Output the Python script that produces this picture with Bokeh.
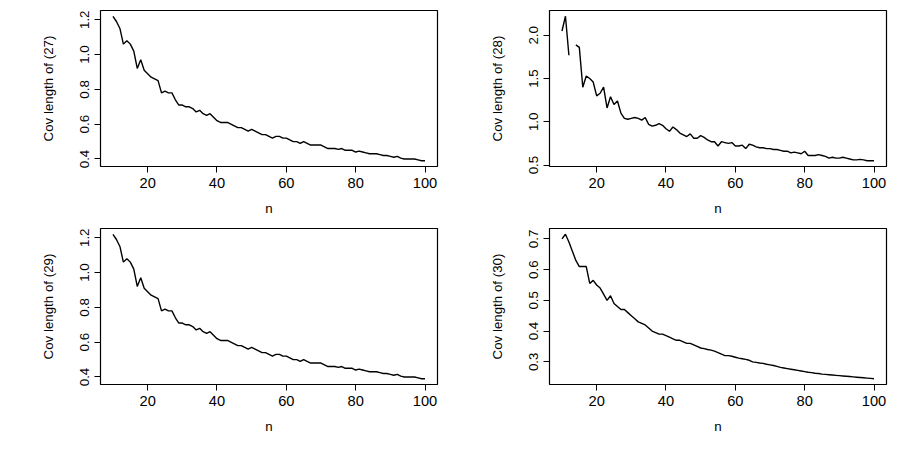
from bokeh.plotting import figure
from bokeh.layouts import gridplot
from bokeh.models import Range1d, FixedTicker, NumeralTickFormatter
from bokeh.embed import file_html
from bokeh.resources import INLINE
import math

n = list(range(10, 101))

cov27 = [1.22, 1.19, 1.15, 1.06, 1.08, 1.06, 1.02, 0.92, 0.97, 0.91,
         0.89, 0.87, 0.86, 0.85, 0.78, 0.79, 0.78, 0.78, 0.74, 0.71,
         0.71, 0.70, 0.70, 0.69, 0.67, 0.68, 0.66, 0.65, 0.66, 0.64,
         0.62, 0.61, 0.61, 0.61, 0.60, 0.59, 0.58, 0.58, 0.57, 0.56,
         0.57, 0.56, 0.55, 0.54, 0.54, 0.53, 0.52, 0.53, 0.53, 0.52,
         0.52, 0.51, 0.50, 0.50, 0.49, 0.50, 0.49, 0.48, 0.48, 0.48,
         0.48, 0.47, 0.46, 0.46, 0.46, 0.455, 0.46, 0.45, 0.45, 0.45,
         0.44, 0.445, 0.44, 0.435, 0.43, 0.43, 0.43, 0.425, 0.42, 0.42,
         0.415, 0.41, 0.415, 0.405, 0.40, 0.40, 0.40, 0.40, 0.395, 0.39,
         0.39]

cov28 = [2.05, 2.22, 1.77, float("nan"), 1.89, 1.86, 1.40, 1.53, 1.50, 1.46,
         1.30, 1.33, 1.40, 1.16, 1.29, 1.20, 1.24, 1.10, 1.04, 1.03,
         1.04, 1.05, 1.04, 1.02, 1.05, 0.97, 0.95, 0.96, 0.98, 0.96,
         0.92, 0.89, 0.94, 0.91, 0.87, 0.85, 0.83, 0.86, 0.81, 0.81,
         0.84, 0.82, 0.79, 0.77, 0.77, 0.72, 0.77, 0.76, 0.75, 0.76,
         0.72, 0.72, 0.73, 0.69, 0.74, 0.73, 0.71, 0.70, 0.70, 0.69,
         0.69, 0.68, 0.68, 0.67, 0.66, 0.66, 0.64, 0.65, 0.64, 0.63,
         0.66, 0.61, 0.61, 0.61, 0.62, 0.61, 0.60, 0.58, 0.59, 0.58,
         0.58, 0.59, 0.58, 0.57, 0.56, 0.56, 0.565, 0.56, 0.55, 0.55,
         0.55]

cov29 = list(cov27)

cov30 = [0.70, 0.715, 0.69, 0.66, 0.63, 0.61, 0.61, 0.61, 0.555, 0.565,
         0.55, 0.54, 0.52, 0.50, 0.515, 0.49, 0.48, 0.47, 0.47, 0.46,
         0.45, 0.44, 0.43, 0.425, 0.42, 0.41, 0.40, 0.395, 0.39, 0.39,
         0.385, 0.38, 0.375, 0.37, 0.37, 0.365, 0.36, 0.36, 0.355, 0.35,
         0.345, 0.343, 0.34, 0.338, 0.335, 0.33, 0.325, 0.32, 0.32, 0.318,
         0.315, 0.312, 0.31, 0.308, 0.305, 0.30, 0.298, 0.296, 0.295, 0.292,
         0.29, 0.288, 0.285, 0.282, 0.28, 0.278, 0.276, 0.274, 0.272, 0.27,
         0.268, 0.266, 0.265, 0.263, 0.262, 0.26, 0.259, 0.258, 0.257, 0.256,
         0.255, 0.254, 0.253, 0.252, 0.251, 0.25, 0.249, 0.248, 0.247, 0.246,
         0.245]

panels = [("Cov length of (27)", cov27, [0.4, 0.6, 0.8, 1.0, 1.2]),
          ("Cov length of (28)", cov28, [0.5, 1.0, 1.5, 2.0]),
          ("Cov length of (29)", cov29, [0.4, 0.6, 0.8, 1.0, 1.2]),
          ("Cov length of (30)", cov30, [0.3, 0.4, 0.5, 0.6, 0.7])]

figs = []
for label, ys, yt in panels:
    good = [v for v in ys if not math.isnan(v)]
    lo, hi = min(good), max(good)
    pad = (hi - lo) * 0.04
    p = figure(width=449, height=218, output_backend="svg", toolbar_location=None, tools="",
               x_range=Range1d(6.4, 103.6), y_range=Range1d(lo - pad, hi + pad),
               min_border_left=100, min_border_right=12, min_border_top=10, min_border_bottom=44)
    p.line(n, ys, line_color="black", line_width=1.4)
    p.grid.visible = False
    p.outline_line_color = "black"
    p.outline_line_width = 1.2
    p.background_fill_color = "white"
    p.xaxis.ticker = FixedTicker(ticks=[20, 40, 60, 80, 100])
    p.yaxis.ticker = FixedTicker(ticks=yt)
    p.yaxis.formatter = NumeralTickFormatter(format="0.0")
    p.yaxis.major_label_orientation = "vertical"
    p.xaxis.axis_label = "n"
    p.yaxis.axis_label = label
    for ax in (p.xaxis, p.yaxis):
        ax.axis_line_color = None
        ax.minor_tick_line_color = None
        ax.major_tick_out = 6
        ax.major_tick_in = 0
        ax.major_label_text_font = "Liberation Sans"
        ax.major_label_text_font_size = "11pt"
        ax.major_label_text_color = "black"
        ax.axis_label_text_font = "Liberation Sans"
        ax.axis_label_text_font_style = "normal"
        ax.axis_label_text_font_size = "10pt"
        ax.axis_label_text_color = "black"
    p.yaxis.major_label_text_font_size = "10pt"
    p.xaxis.axis_label_standoff = 10
    p.yaxis.axis_label_standoff = 22
    figs.append(p)

grid = gridplot([[figs[0], figs[1]], [figs[2], figs[3]]], toolbar_location=None)
open("out.html", "w").write(file_html(grid, INLINE))
